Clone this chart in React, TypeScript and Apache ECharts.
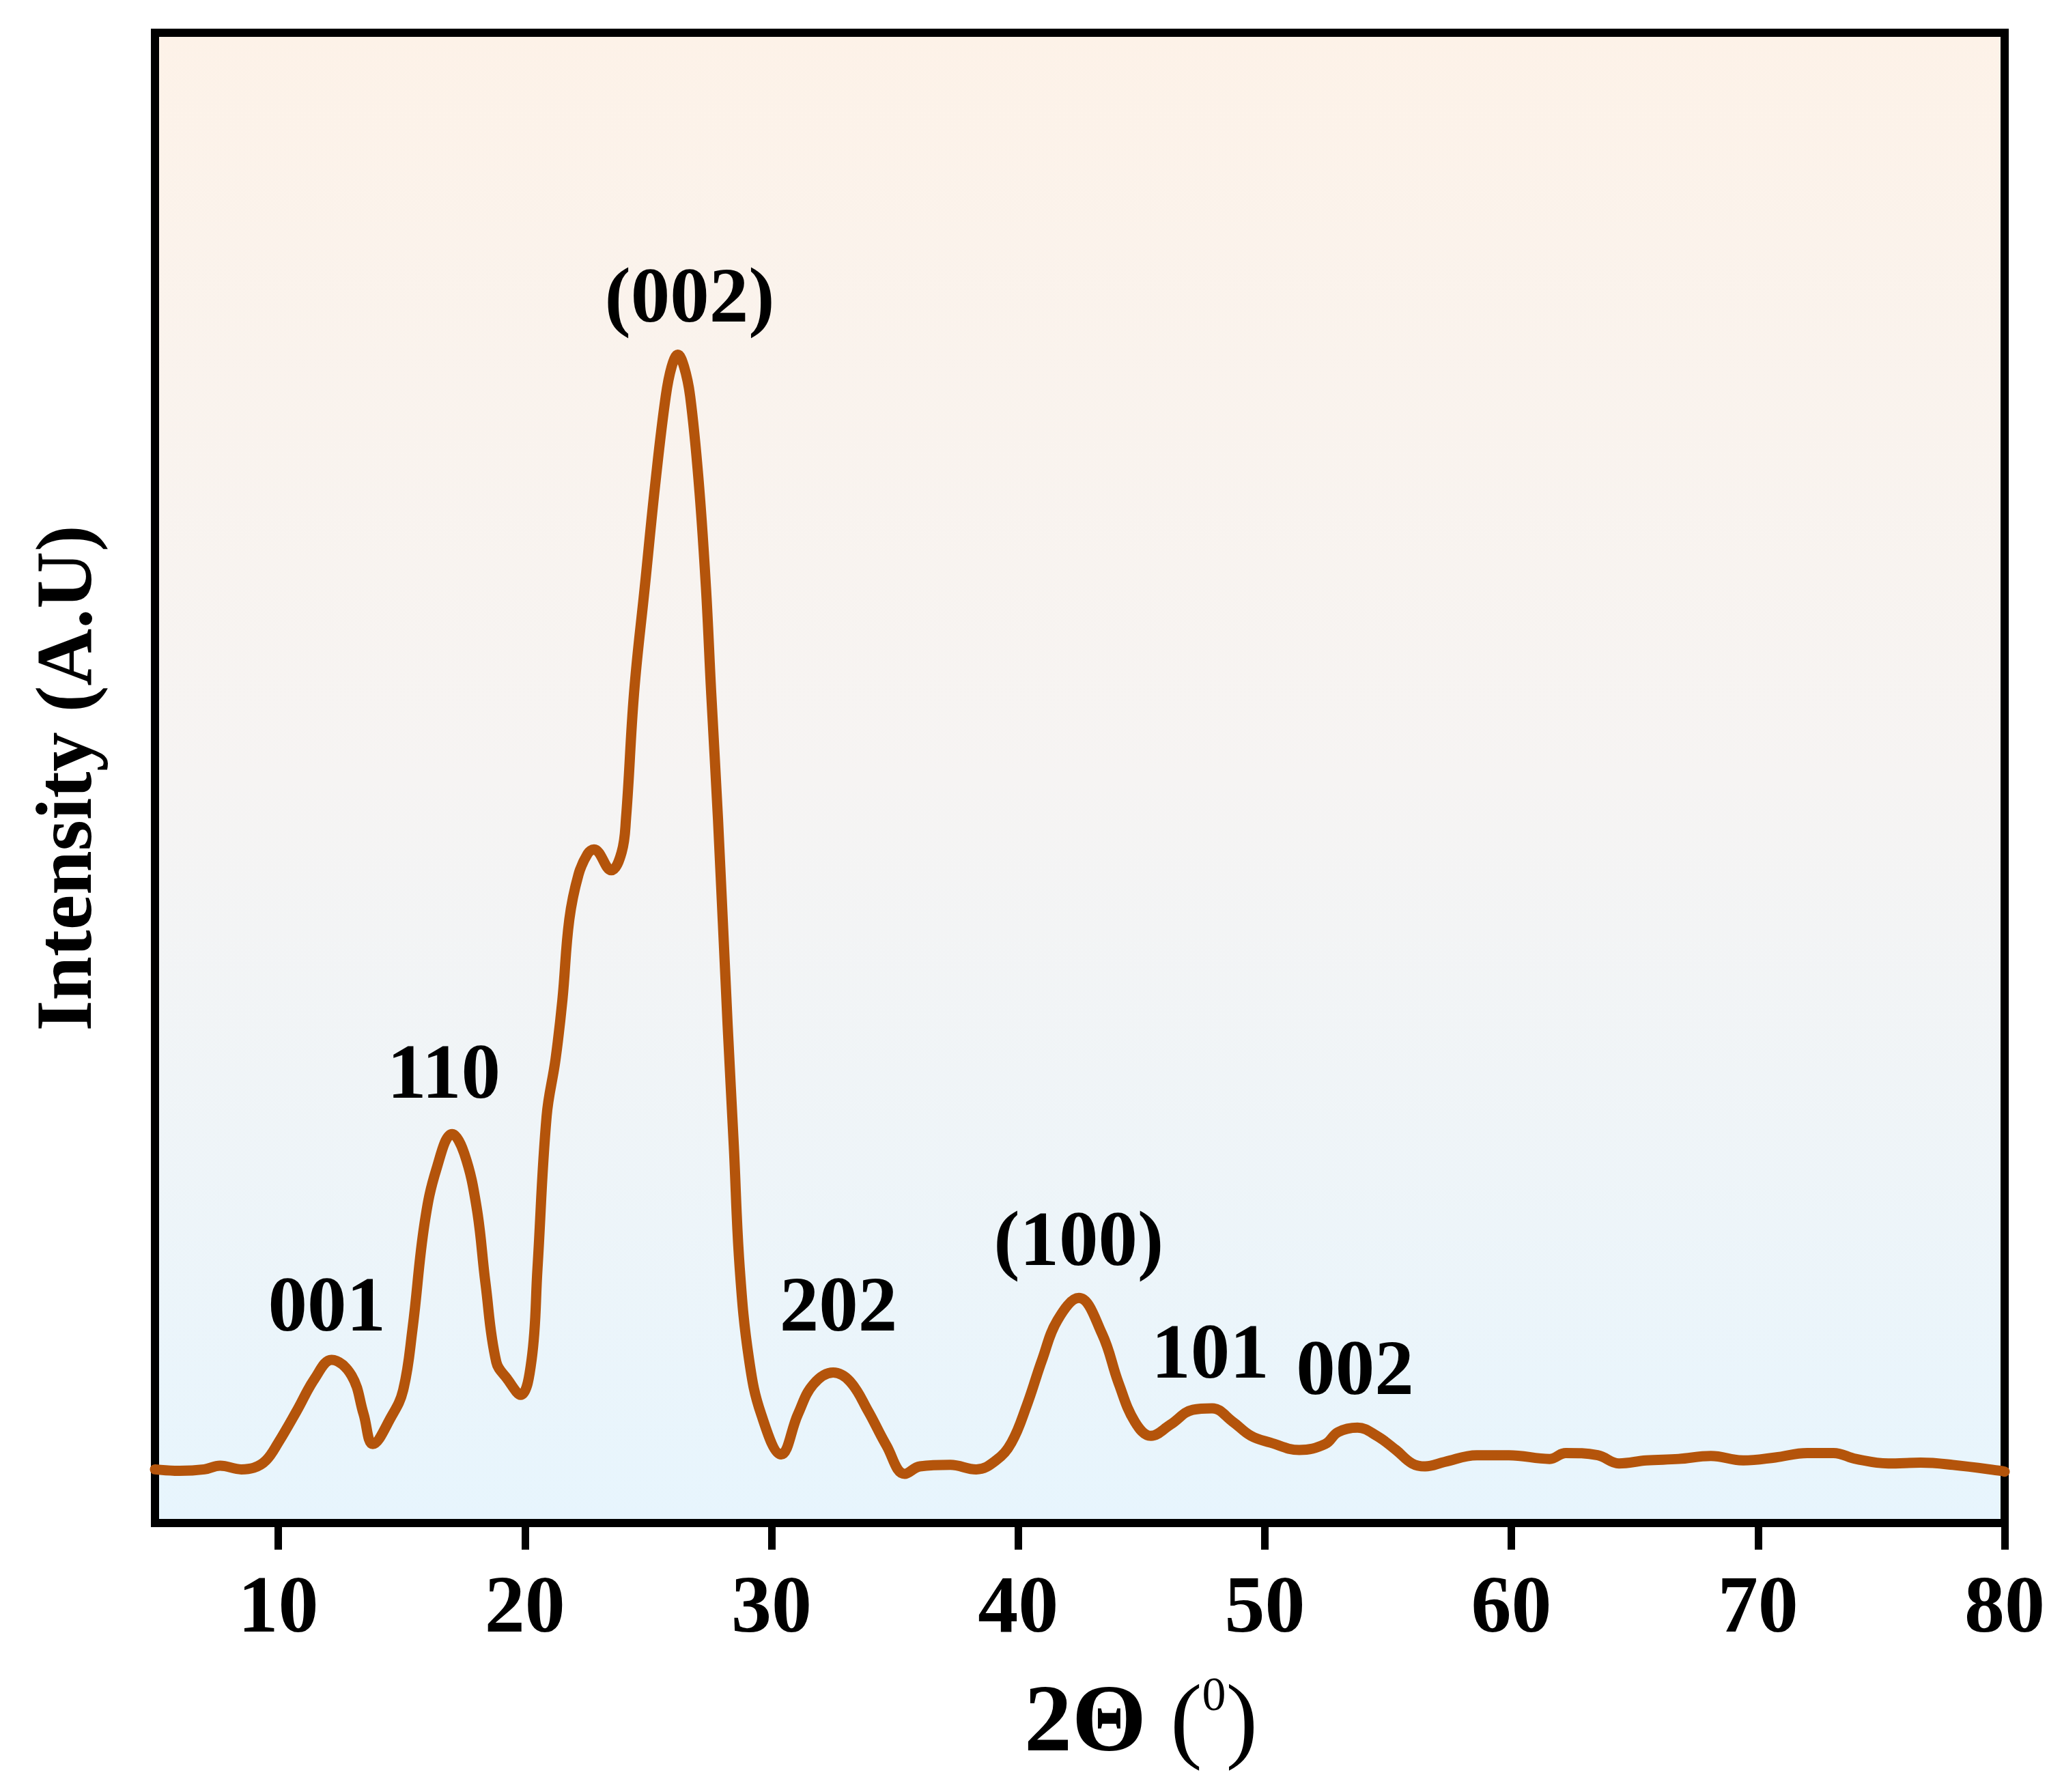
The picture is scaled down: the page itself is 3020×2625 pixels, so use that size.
import React, { useEffect, useRef } from "react";
import * as echarts from "echarts";

const FONT = "Liberation Serif";

// 2θ (degrees) and intensity (arbitrary units, 0-100 scale of the frame)
const twoTheta = [
  5.0, 6.0, 7.0, 7.64, 8.5, 9.0, 9.5, 10.0, 10.74, 11.48, 12.16, 12.97, 13.46, 13.83,
  14.57, 15.06, 15.44, 15.93, 16.42, 17.05, 17.54, 18.04, 18.4, 18.84, 19.27, 19.83,
  20.27, 20.51, 20.88, 21.24, 21.52, 21.8, 22.17, 22.54, 22.8, 23.5, 23.92, 24.1, 24.43,
  24.86, 25.29, 25.71, 25.95, 26.2, 26.45, 26.7, 27.05, 27.34, 27.55, 27.83, 28.22, 28.47, 28.71,
  29.09, 29.58, 30.39, 31.07, 31.69, 32.5, 33.18, 33.92, 34.66, 35.4, 36.02, 37.25,
  38.3, 39.1, 39.73, 40.35, 40.97, 41.59, 42.46, 43.4, 44.07, 44.73, 45.38, 46.17,
  47.08, 47.86, 48.7, 49.44, 50.22, 51.4, 52.45, 52.97, 53.76, 54.54, 55.32, 55.97,
  56.5, 57.29, 58.6, 59.9, 61.55, 62.2, 63.5, 64.36, 65.47, 66.78, 68.09, 69.4, 70.7,
  72.0, 73.06, 73.97, 75.28, 76.6, 77.9, 79.86, 80.0,
];
const intensity = [
  3.6, 3.5, 3.6, 3.85, 3.6, 3.7, 4.2, 5.4, 7.5, 9.7, 10.95, 9.9, 7.3, 5.3,
  7.1, 8.9, 13.0, 20.1, 23.8, 26.1, 24.8, 21.2, 16.1, 10.8, 9.7, 8.6,
  10.95, 17.1, 27.3, 31.1, 35.1, 40.5, 43.5, 44.9, 45.2, 43.8, 45.0, 47.3, 55.8,
  62.8, 69.8, 75.6, 77.6, 78.4, 77.6, 75.6, 69.8, 62.8, 55.8, 47.2, 33.4, 25.3, 17.1,
  10.95, 7.3, 4.6, 7.3, 9.3, 10.1, 9.5, 7.5, 5.2, 3.3, 3.8, 3.9,
  3.6, 4.2, 5.4, 7.9, 10.95, 13.6, 15.1, 12.7, 9.4, 6.8, 5.85, 6.6,
  7.6, 7.7, 6.8, 5.85, 5.4, 4.9, 5.3, 6.1, 6.4, 5.85, 4.9, 4.0,
  3.8, 4.1, 4.55, 4.55, 4.3, 4.7, 4.55, 4.0, 4.2, 4.3, 4.5, 4.2, 4.4,
  4.7, 4.7, 4.3, 4.0, 4.05, 3.9, 3.5, 3.45,
];

const xTicks = [10, 20, 30, 40, 50, 60, 70, 80];

const peakNames = ["001", "110", "(002)", "202", "(100)", "101", "002"];
const peakX = [11.97, 16.71, 26.68, 32.71, 42.45, 47.79, 53.66];
const peakY = [14.7, 30.3, 82.4, 14.7, 19.1, 11.5, 10.4];

export default function App() {
  const ref = useRef<HTMLDivElement>(null);

  useEffect(() => {
    const chart = echarts.init(ref.current as HTMLDivElement, null, { renderer: "svg" });
    const lineData = twoTheta.map((x, i) => [x, intensity[i]]);
    const peakData = peakNames.map((n, i) => ({ name: n, value: [peakX[i], peakY[i]] }));

    chart.setOption({
      animation: false,
      backgroundColor: "#ffffff",
      grid: {
        left: 227,
        right: 84,
        top: 48,
        bottom: 394,
        show: true,
        borderWidth: 12,
        borderColor: "#000000",
        backgroundColor: new echarts.graphic.LinearGradient(0, 0, 0, 1, [
          { offset: 0, color: "#FDF2E8" },
          { offset: 0.5, color: "#F6F4F3" },
          { offset: 1, color: "#E7F5FD" },
        ]),
      },
      xAxis: {
        type: "value",
        min: 5,
        max: 80,
        axisLine: { show: false },
        axisTick: {
          show: true,
          customValues: xTicks,
          length: 39,
          inside: false,
          lineStyle: { color: "#000000", width: 11 },
        },
        axisLabel: {
          customValues: xTicks,
          margin: 60,
          fontSize: 118,
          fontWeight: "bold",
          fontFamily: FONT,
          color: "#000000",
        },
        splitLine: { show: false },
      },
      yAxis: {
        type: "value",
        min: 0,
        max: 100,
        axisLine: { show: false },
        axisTick: { show: false },
        axisLabel: { show: false },
        splitLine: { show: false },
      },
      graphic: [
        {
          type: "text",
          x: 94,
          y: 1140,
          rotation: Math.PI / 2,
          style: {
            text: "Intensity (A.U)",
            fill: "#000000",
            fontSize: 116,
            fontWeight: "bold",
            fontFamily: FONT,
            textAlign: "center",
            textVerticalAlign: "middle",
          },
        },
        {
          type: "text",
          x: 1500,
          y: 2516,
          style: {
            text: "{b|2Θ} {r|(}{s|0}{r|)}",
            fill: "#000000",
            fontFamily: FONT,
            fontSize: 140,
            textAlign: "left",
            textVerticalAlign: "middle",
            rich: {
              b: { fontSize: 140, fontWeight: "bold", fontFamily: FONT, fill: "#000000", lineHeight: 140 },
              r: { fontSize: 140, fontWeight: "normal", fontFamily: FONT, fill: "#000000", lineHeight: 140 },
              s: { fontSize: 70, fontWeight: "normal", fontFamily: FONT, fill: "#000000", lineHeight: 70, verticalAlign: "top" },
            },
          },
        },
      ],
      series: [
        {
          type: "line",
          data: lineData,
          smooth: 0.4,
          showSymbol: false,
          symbol: "none",
          lineStyle: { color: "#B4540B", width: 15, cap: "round", join: "round" },
          z: 3,
        },
        {
          type: "scatter",
          data: peakData,
          symbolSize: 1,
          itemStyle: { color: "rgba(0,0,0,0)" },
          label: {
            show: true,
            position: "inside",
            formatter: "{b}",
            fontSize: 115,
            fontWeight: "bold",
            fontFamily: FONT,
            color: "#000000",
            textBorderWidth: 0,
            textBorderColor: "transparent",
            opacity: 1,
          },
          z: 4,
        },
      ],
    });

    return () => chart.dispose();
  }, []);

  return (
    <div
      ref={ref}
      style={{ position: "absolute", left: 0, top: 0, width: 3020, height: 2625, background: "#ffffff" }}
    />
  );
}
